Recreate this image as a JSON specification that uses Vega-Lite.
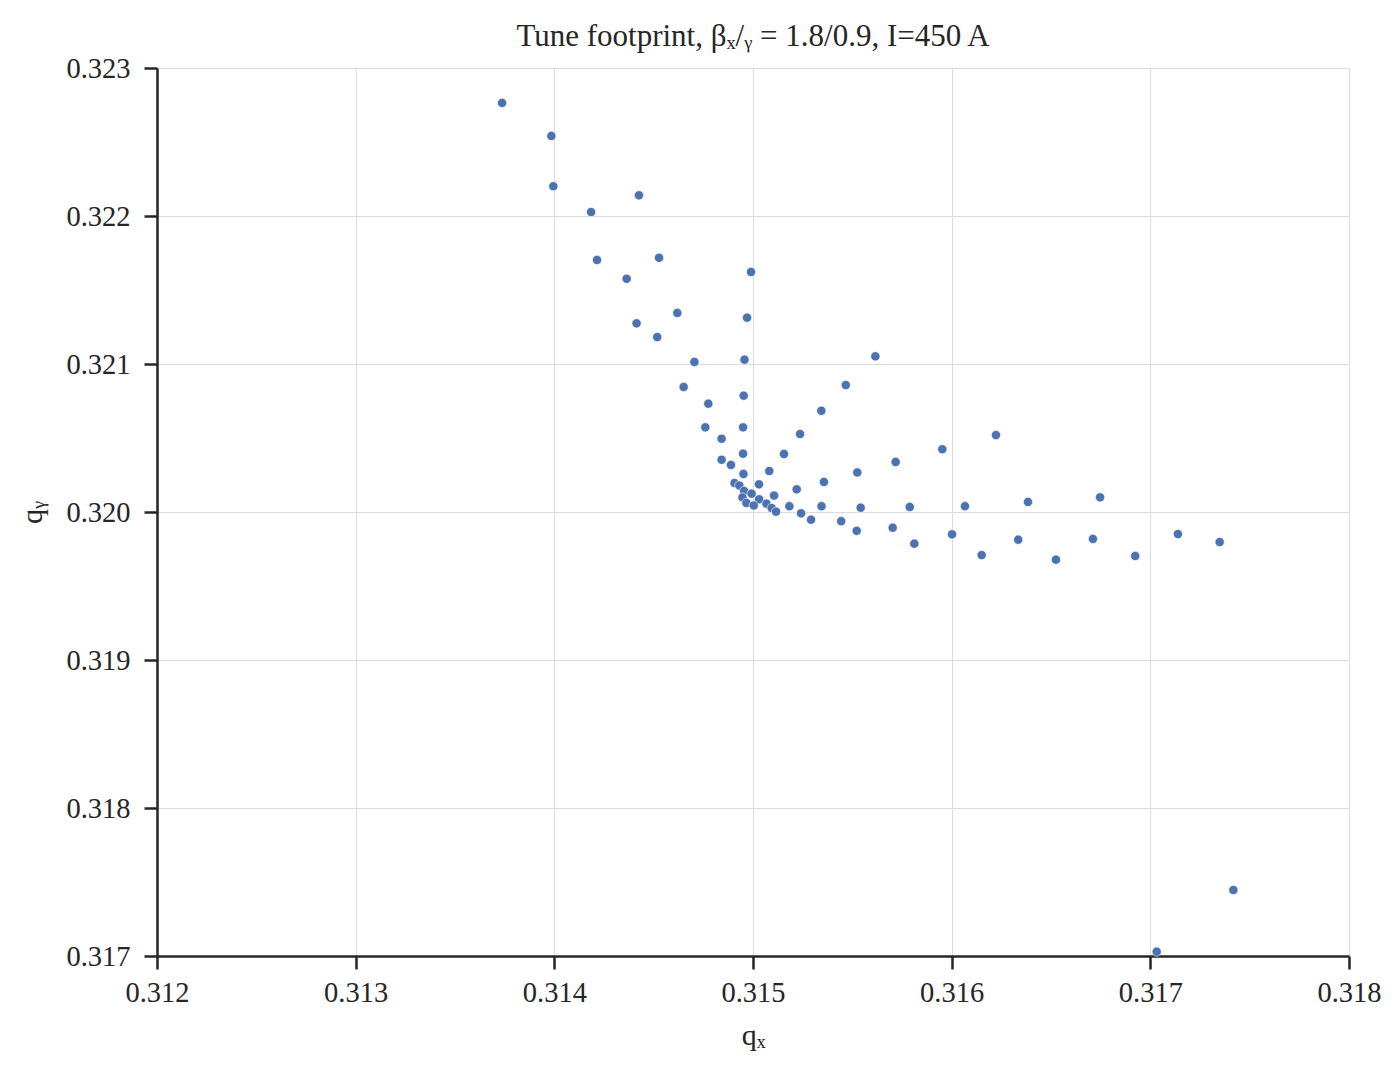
{
  "$schema": "https://vega.github.io/schema/vega-lite/v6.json",
  "autosize": {"type": "none"},
  "padding": {"left": 157, "top": 68, "right": 44, "bottom": 110},
  "width": 1192,
  "height": 888,
  "background": "white",
  "title": {
    "text": "Tune footprint, βₓ/ᵧ = 1.8/0.9, I=450 A",
    "font": "Liberation Serif",
    "fontSize": 31,
    "fontWeight": "normal",
    "color": "#262626",
    "anchor": "middle",
    "offset": 1
  },
  "config": {
    "view": {"stroke": null},
    "font": "Liberation Serif",
    "axis": {
      "labelFont": "Liberation Serif",
      "titleFont": "Liberation Serif",
      "labelFontSize": 28.5,
      "titleFontSize": 30,
      "titleFontWeight": "normal",
      "labelColor": "#262626",
      "titleColor": "#262626",
      "domainColor": "#262626",
      "domainWidth": 2.5,
      "tickColor": "#262626",
      "tickWidth": 2.5,
      "tickSize": 13,
      "gridColor": "#dcdcdc",
      "gridWidth": 1
    }
  },
  "data": {
    "values": [
      {"qx": 0.313737, "qy": 0.322764},
      {"qx": 0.313985, "qy": 0.322541},
      {"qx": 0.313995, "qy": 0.322201},
      {"qx": 0.314185, "qy": 0.322027},
      {"qx": 0.314426, "qy": 0.322140},
      {"qx": 0.314215, "qy": 0.321703},
      {"qx": 0.314527, "qy": 0.321718},
      {"qx": 0.314364, "qy": 0.321576},
      {"qx": 0.314990, "qy": 0.321622},
      {"qx": 0.314619, "qy": 0.321345},
      {"qx": 0.314414, "qy": 0.321275},
      {"qx": 0.314518, "qy": 0.321182},
      {"qx": 0.314970, "qy": 0.321313},
      {"qx": 0.314705, "qy": 0.321014},
      {"qx": 0.314957, "qy": 0.321029},
      {"qx": 0.315616, "qy": 0.321052},
      {"qx": 0.314651, "qy": 0.320845},
      {"qx": 0.315467, "qy": 0.320858},
      {"qx": 0.314953, "qy": 0.320786},
      {"qx": 0.314775, "qy": 0.320732},
      {"qx": 0.315344, "qy": 0.320684},
      {"qx": 0.314760, "qy": 0.320572},
      {"qx": 0.314950, "qy": 0.320572},
      {"qx": 0.314842, "qy": 0.320495},
      {"qx": 0.315237, "qy": 0.320527},
      {"qx": 0.316223, "qy": 0.320520},
      {"qx": 0.314950, "qy": 0.320394},
      {"qx": 0.315156, "qy": 0.320392},
      {"qx": 0.315953, "qy": 0.320424},
      {"qx": 0.314842, "qy": 0.320353},
      {"qx": 0.314889, "qy": 0.320318},
      {"qx": 0.315718, "qy": 0.320338},
      {"qx": 0.315082, "qy": 0.320277},
      {"qx": 0.315525, "qy": 0.320267},
      {"qx": 0.314952, "qy": 0.320257},
      {"qx": 0.314907, "qy": 0.320196},
      {"qx": 0.315357, "qy": 0.320203},
      {"qx": 0.315030, "qy": 0.320187},
      {"qx": 0.314931, "qy": 0.320179},
      {"qx": 0.314955, "qy": 0.320142},
      {"qx": 0.315220, "qy": 0.320153},
      {"qx": 0.316747, "qy": 0.320099},
      {"qx": 0.315106, "qy": 0.320111},
      {"qx": 0.314947, "qy": 0.320098},
      {"qx": 0.314993, "qy": 0.320124},
      {"qx": 0.316384, "qy": 0.320068},
      {"qx": 0.315031, "qy": 0.320086},
      {"qx": 0.314967, "qy": 0.320061},
      {"qx": 0.315004, "qy": 0.320044},
      {"qx": 0.315068, "qy": 0.320056},
      {"qx": 0.315183, "qy": 0.320039},
      {"qx": 0.315345, "qy": 0.320039},
      {"qx": 0.315542, "qy": 0.320029},
      {"qx": 0.315789, "qy": 0.320034},
      {"qx": 0.316067, "qy": 0.320039},
      {"qx": 0.315094, "qy": 0.320027},
      {"qx": 0.315116, "qy": 0.320002},
      {"qx": 0.315242, "qy": 0.319991},
      {"qx": 0.315292, "qy": 0.319948},
      {"qx": 0.315444, "qy": 0.319938},
      {"qx": 0.315522, "qy": 0.319873},
      {"qx": 0.315703, "qy": 0.319894},
      {"qx": 0.315812, "qy": 0.319786},
      {"qx": 0.316002, "qy": 0.319849},
      {"qx": 0.316151, "qy": 0.319709},
      {"qx": 0.316335, "qy": 0.319813},
      {"qx": 0.316525, "qy": 0.319678},
      {"qx": 0.316711, "qy": 0.319818},
      {"qx": 0.316924, "qy": 0.319703},
      {"qx": 0.317139, "qy": 0.319851},
      {"qx": 0.317349, "qy": 0.319797},
      {"qx": 0.317418, "qy": 0.317446},
      {"qx": 0.317032, "qy": 0.317029}
    ]
  },
  "mark": {"type": "point", "filled": true, "shape": "circle", "size": 85, "color": "#4c72b0", "opacity": 1, "stroke": "white", "strokeWidth": 0.6},
  "encoding": {
    "x": {
      "field": "qx",
      "type": "quantitative",
      "scale": {"domain": [0.312, 0.318], "nice": false, "zero": false},
      "axis": {
        "title": "qₓ",
        "values": [0.312, 0.313, 0.314, 0.315, 0.316, 0.317, 0.318],
        "format": ".3f",
        "labelPadding": 9,
        "titlePadding": 14,
        "labelFlush": false
      }
    },
    "y": {
      "field": "qy",
      "type": "quantitative",
      "scale": {"domain": [0.317, 0.323], "nice": false, "zero": false},
      "axis": {
        "title": "qᵧ",
        "values": [0.317, 0.318, 0.319, 0.320, 0.321, 0.322, 0.323],
        "format": ".3f",
        "labelPadding": 14,
        "titlePadding": 18,
        "labelFlush": false
      }
    }
  }
}
